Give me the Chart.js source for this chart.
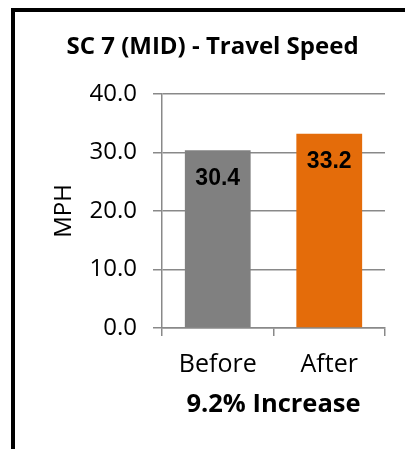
<!DOCTYPE html>
<html>
<head>
<meta charset="utf-8">
<script src="https://cdn.jsdelivr.net/npm/chart.js@4"></script>
<style>
  html, body { margin: 0; padding: 0; background: #fff; }
  #wrap { position: relative; width: 405px; height: 449px; }
  #frame {
    position: absolute; left: 11px; top: 8px; right: -10px; bottom: -10px;
    border-top: 4px solid #000; border-left: 4px solid #000;
    pointer-events: none;
  }
  canvas { position: absolute; left: 0; top: 0; }
</style>
</head>
<body>
<div id="wrap">
  <canvas id="c" width="405" height="449"></canvas>
  <div id="frame"></div>
</div>
<script>
// Travel speed before and after, in MPH
const categories = ['Before', 'After'];
const speeds = [30.4, 33.2];
const barColors = ['#808080', '#E46C0A'];
const yTicks = [0, 10, 20, 30, 40];
const chartTitle = 'SC 7 (MID) - Travel Speed';
const axisTitleX = '9.2% Increase';
const axisTitleY = 'MPH';

const GRID = '#898989';
const FONT = "'Open Sans', 'DejaVu Sans', sans-serif";

// Values printed inside the top of each bar
const barValueLabels = {
  id: 'barValueLabels',
  afterDatasetsDraw(chart) {
    const ctx = chart.ctx;
    const meta = chart.getDatasetMeta(0);
    ctx.save();
    ctx.font = "bold 23px 'Liberation Sans', Arial, sans-serif";
    ctx.fillStyle = '#000';
    ctx.textAlign = 'center';
    ctx.textBaseline = 'middle';
    meta.data.forEach((bar, i) => {
      const v = chart.data.datasets[0].data[i];
      ctx.fillText(v.toFixed(1), bar.x, bar.y + 28);
    });
    ctx.restore();
  }
};

new Chart(document.getElementById('c'), {
  type: 'bar',
  data: {
    labels: categories,
    datasets: [{
      data: speeds,
      backgroundColor: barColors,
      borderWidth: 0,
      barPercentage: 0.59,
      categoryPercentage: 1.0
    }]
  },
  options: {
    responsive: false,
    animation: false,
    layout: { padding: { left: 40, right: 20, top: 0, bottom: 0 } },
    plugins: {
      legend: { display: false },
      tooltip: { enabled: false },
      title: {
        display: true,
        text: chartTitle,
        color: '#000',
        font: { family: FONT, size: 24, weight: 'bold' },
        padding: { top: 33, bottom: 32.2 }
      }
    },
    scales: {
      x: {
        grid: { offset: true, drawOnChartArea: false, tickLength: 8, color: GRID, lineWidth: 1.5 },
        border: { display: true, color: GRID, width: 1.5 },
        ticks: { color: '#000', font: { family: FONT, size: 25 }, padding: 14 },
        title: {
          display: true, text: axisTitleX, color: '#000',
          font: { family: FONT, size: 25.5, weight: 'bold' },
          padding: { top: 0, bottom: 28.7 }
        },
        afterFit(scale) { scale.height = 121; }
      },
      y: {
        min: yTicks[0],
        max: yTicks[yTicks.length - 1],
        afterBuildTicks(scale) { scale.ticks = yTicks.map(v => ({ value: v })); },
        grid: { tickLength: 9, color: GRID, lineWidth: 1.5 },
        border: { display: true, color: GRID, width: 1.5 },
        ticks: {
          color: '#000', font: { family: FONT, size: 24 }, padding: 16,
          callback: v => Number(v).toFixed(1)
        },
        title: {
          display: true, text: axisTitleY, color: '#000',
          font: { family: FONT, size: 24 },
          padding: { top: 9.5, bottom: 0 }
        },
        afterFit(scale) { scale.width = 122; }
      }
    }
  },
  plugins: [barValueLabels]
});
</script>
</body>
</html>
